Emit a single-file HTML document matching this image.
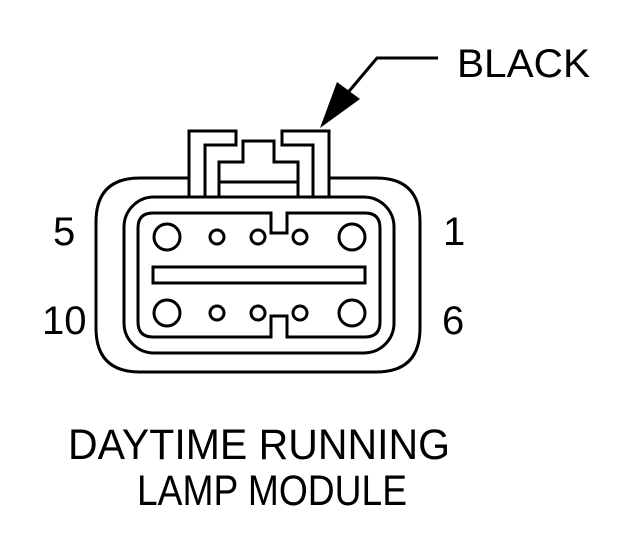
<!DOCTYPE html>
<html><head><style>
body{margin:0;background:#fff;width:640px;height:550px;overflow:hidden}
svg text{font-family:"Liberation Sans",Arial,sans-serif;fill:#000}
</style></head><body>
<svg width="640" height="550" viewBox="0 0 640 550" xmlns="http://www.w3.org/2000/svg">
<g fill="none" stroke="#000" stroke-width="3">
<path d="M189 178 H140 Q96 178 96 222 V328 Q96 372 140 372 H376 Q420 372 420 328 V222 Q420 178 376 178 H329"/>
<rect x="124" y="197" width="270" height="156" rx="30"/>
<path d="M271 213 H153 Q138 213 138 228 V322 Q138 337 153 337 H271 V316 H287 V337 H365 Q380 337 380 322 V228 Q380 213 365 213 H287 V233 H271 Z"/>
<rect x="153" y="267" width="212" height="16"/>
<circle cx="167" cy="237" r="13"/><circle cx="352" cy="237" r="13"/>
<circle cx="167" cy="313" r="13"/><circle cx="352" cy="313" r="13"/>
<circle cx="217" cy="237" r="7"/><circle cx="258" cy="237" r="7"/><circle cx="300" cy="237" r="7"/>
<circle cx="217" cy="313" r="7"/><circle cx="258" cy="313" r="7"/><circle cx="300" cy="313" r="7"/>
<path d="M189 197 V131 H236 V145 H205 V197"/>
<path d="M329 197 V131 H282 V145 H313 V197"/>
<path d="M219 197 V162 H243 V141 H274 V162 H298 V197"/>
<path d="M219 182 H298"/>
<path d="M438 58 H377 L345 96"/>
</g>
<path d="M320 128 L337 82 L360 99 Z" fill="#000"/>
<text x="457" y="77" font-size="40" textLength="133" lengthAdjust="spacingAndGlyphs">BLACK</text>
<text x="53" y="245" font-size="40">5</text>
<text x="443" y="245" font-size="40">1</text>
<text x="42" y="334" font-size="40">10</text>
<text x="442" y="334" font-size="40">6</text>
<text x="68" y="459" font-size="43" textLength="382" lengthAdjust="spacingAndGlyphs">DAYTIME RUNNING</text>
<text x="137" y="505" font-size="43" textLength="270" lengthAdjust="spacingAndGlyphs">LAMP MODULE</text>
</svg>
</body></html>
